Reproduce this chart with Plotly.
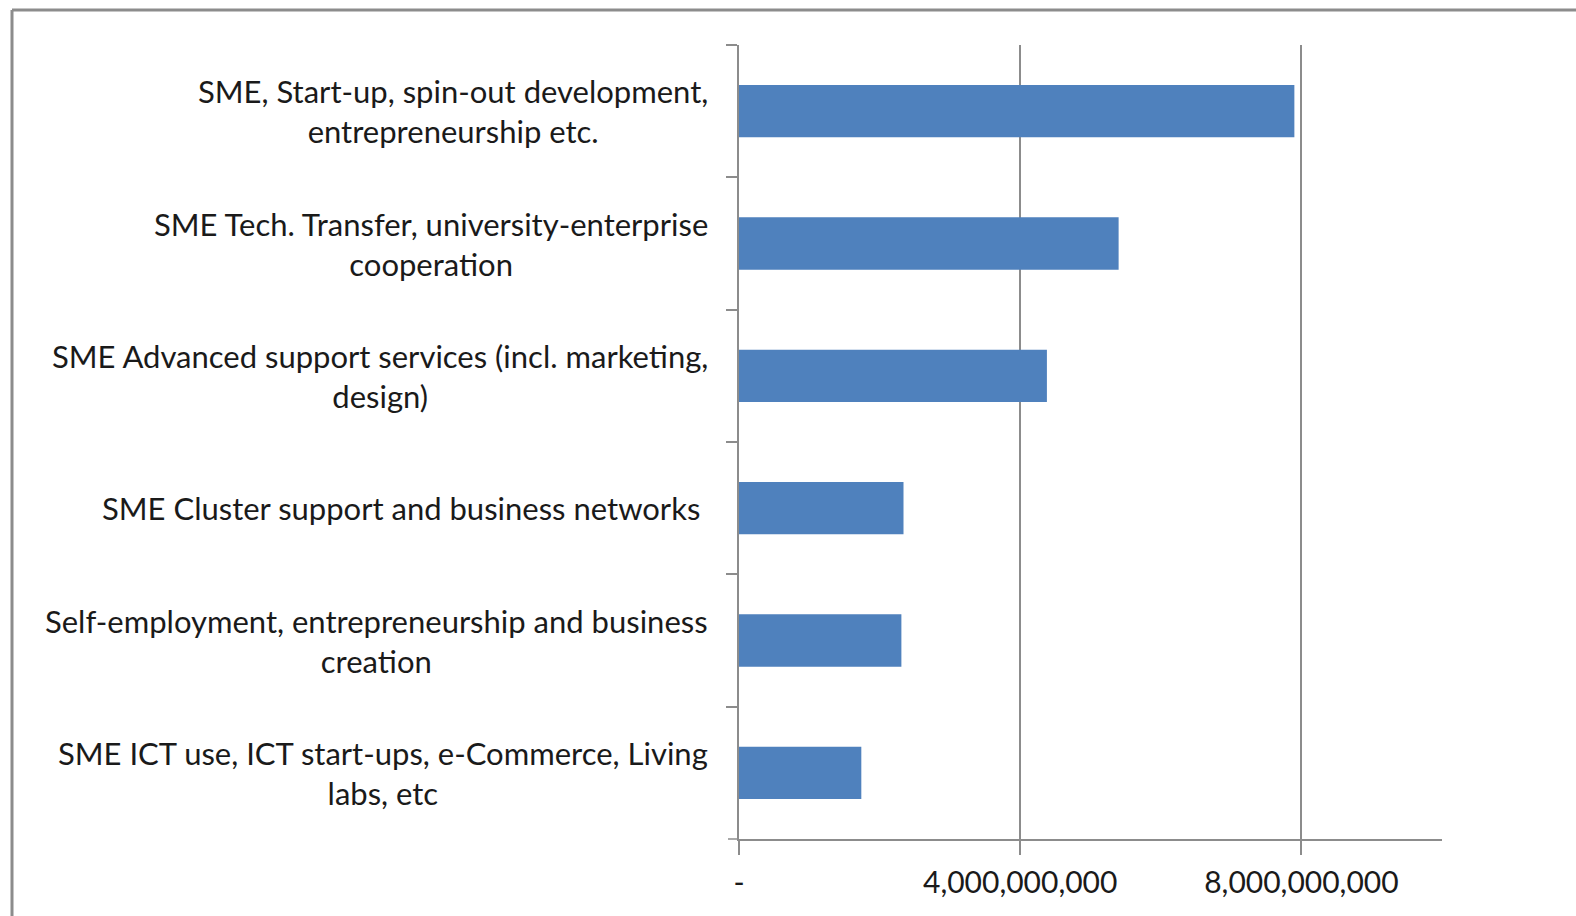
import plotly.graph_objects as go

# Funding by SME-support theme (EUR)
categories = [
    "SME, Start-up, spin-out development,<br>entrepreneurship etc.",
    "SME Tech. Transfer, university-enterprise<br>cooperation",
    "SME Advanced support services (incl. marketing,<br>design)",
    "SME Cluster support and business networks ",
    "Self-employment, entrepreneurship and business<br>creation",
    "SME ICT use, ICT start-ups, e-Commerce, Living<br>labs, etc",
]
values = [7.90e9, 5.40e9, 4.38e9, 2.34e9, 2.31e9, 1.74e9]

tick_vals = [0, 4e9, 8e9]
tick_text = ["-", "4,000,000,000", "8,000,000,000"]

FONT = "Lato"
TEXT_COLOR = "#1a1a1a"
AXIS_COLOR = "#8c8c8c"

W, H = 1576, 916
L, R, T, B = 739, 134, 45, 77
pw, ph = W - L - R, H - T - B

fig = go.Figure(
    go.Bar(
        x=values,
        y=categories,
        orientation="h",
        marker=dict(color="#4F81BD", line=dict(width=0)),
        hoverinfo="x+y",
    )
)

# Category labels, centred multi-line blocks right-aligned against the axis
for cat in categories:
    fig.add_annotation(
        x=0, xref="paper", y=cat, yref="y",
        text=cat, showarrow=False,
        xanchor="right", yanchor="middle", align="center",
        xshift=-29,
        font=dict(family=FONT, size=31, color=TEXT_COLOR),
    )

def px_x(p):
    return (p - L) / pw

def px_y(p):
    return (H - B - p) / ph

shapes = [
    # frame around the chart (top and left edges)
    dict(type="line", xref="paper", yref="paper",
         x0=px_x(12), x1=px_x(W + 5), y0=px_y(10), y1=px_y(10),
         line=dict(color="#8c8c8c", width=3)),
    dict(type="line", xref="paper", yref="paper",
         x0=px_x(12), x1=px_x(12), y0=px_y(10), y1=px_y(H + 5),
         line=dict(color="#8c8c8c", width=3)),
    # x-axis line stub extending left to the y tick marks
    dict(type="line", xref="paper", yref="paper",
         x0=px_x(L - 11), x1=0, y0=0, y1=0,
         line=dict(color=AXIS_COLOR, width=1.5)),
]

fig.update_layout(
    width=W, height=H,
    margin=dict(l=L, r=R, t=T, b=B, pad=0),
    paper_bgcolor="white", plot_bgcolor="white",
    bargap=0.605,
    showlegend=False,
    shapes=shapes,
    font=dict(family=FONT, size=30, color=TEXT_COLOR),
    xaxis=dict(
        range=[0, 1e10],
        tickvals=tick_vals, ticktext=tick_text,
        showgrid=True, gridcolor=AXIS_COLOR, gridwidth=1.5,
        showline=True, linecolor=AXIS_COLOR, linewidth=1.5,
        ticks="outside", ticklen=14, tickcolor=AXIS_COLOR, tickwidth=1.5,
        ticklabelstandoff=2,
        tickfont=dict(family=FONT, size=30, color=TEXT_COLOR),
        zeroline=False, fixedrange=True,
    ),
    yaxis=dict(
        type="category",
        autorange="reversed",
        showticklabels=False,
        showline=True, linecolor=AXIS_COLOR, linewidth=1.5,
        ticks="outside", ticklen=11, tickcolor=AXIS_COLOR, tickwidth=1.5,
        tickson="boundaries",
        showgrid=False, zeroline=False, fixedrange=True,
    ),
)

fig.write_html("out.html")
